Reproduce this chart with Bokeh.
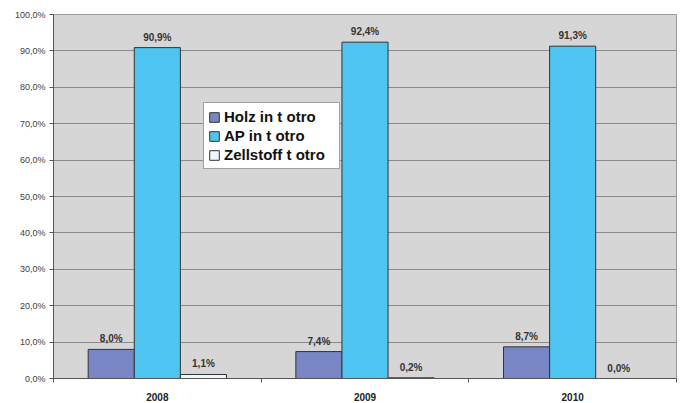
from bokeh.plotting import figure
from bokeh.models import ColumnDataSource, FixedTicker, Legend, LegendItem, Range1d
from bokeh.transform import dodge
from bokeh.core.properties import value
from bokeh.embed import file_html
from bokeh.resources import INLINE

years = ["2008", "2009", "2010"]
holz = [8.0, 7.4, 8.7]
ap = [90.9, 92.4, 91.3]
zellstoff = [1.1, 0.2, 0.0]
series_names = ["Holz in t otro", "AP in t otro", "Zellstoff t otro"]
y_ticks = [0, 10, 20, 30, 40, 50, 60, 70, 80, 90, 100]
y_tick_labels = ["0,0%", "10,0%", "20,0%", "30,0%", "40,0%", "50,0%",
                 "60,0%", "70,0%", "80,0%", "90,0%", "100,0%"]

colors = ["#7986C5", "#4DC5F0", "#EEF6FF"]

xpos = [i + 0.5 for i in range(len(years))]

def fmt(v):
    return ("%.1f" % v).replace(".", ",") + "%"

src = ColumnDataSource(dict(
    x=xpos, holz=holz, ap=ap, zell=zellstoff,
    holz_l=[fmt(v) for v in holz], ap_l=[fmt(v) for v in ap], zell_l=[fmt(v) for v in zellstoff],
))

p = figure(width=681, height=403, output_backend="svg", toolbar_location=None,
           x_range=Range1d(0, len(years)), y_range=Range1d(0, 100))
p.min_border_left = 53
p.min_border_right = 5
p.min_border_top = 14
p.min_border_bottom = 23
p.background_fill_color = "#D6D6D6"
p.border_fill_color = "white"
p.outline_line_color = "#9A9A9A"
p.outline_line_width = 1

w = 0.222
offsets = [-w, 0.0, w]
fields = ["holz", "ap", "zell"]
renderers = []
for off, f, c in zip(offsets, fields, colors):
    r = p.vbar(x=dodge("x", off, range=p.x_range), top=f, width=w, bottom=0,
               source=src, fill_color=c, line_color="#333333", line_width=1)
    renderers.append(r)
    p.text(x=dodge("x", off, range=p.x_range), y=f, text=f + "_l", source=src,
           text_align="center", text_baseline="bottom", y_offset=-5,
           text_font=value("Liberation Sans"), text_font_style="bold",
           text_font_size="10px", text_color="#333333")

# axes
p.xgrid.visible = False
p.ygrid.ticker = FixedTicker(ticks=y_ticks)
p.ygrid.grid_line_color = "#8A8A8A"
p.ygrid.grid_line_width = 1

p.yaxis.ticker = FixedTicker(ticks=y_ticks)
p.yaxis.major_label_overrides = {t: l for t, l in zip(y_ticks, y_tick_labels)}
p.yaxis.major_label_text_font = "Liberation Sans"
p.yaxis.major_label_text_font_size = "9px"
p.yaxis.major_label_text_color = "#404040"
p.yaxis.axis_line_color = "#555555"
p.yaxis.major_tick_line_color = "#555555"
p.yaxis.major_tick_out = 4
p.yaxis.major_tick_in = 0
p.yaxis.minor_tick_line_color = None
p.yaxis.major_label_standoff = 4

p.xaxis.ticker = FixedTicker(ticks=xpos, minor_ticks=list(range(len(years) + 1)))
p.xaxis.major_label_overrides = {x: y for x, y in zip(xpos, years)}
p.xaxis.major_label_text_font = "Liberation Sans"
p.xaxis.major_label_text_font_style = "bold"
p.xaxis.major_label_text_font_size = "10px"
p.xaxis.major_label_text_color = "#222222"
p.xaxis.axis_line_color = "#555555"
p.xaxis.major_tick_line_color = None
p.xaxis.major_tick_out = 0
p.xaxis.major_tick_in = 0
p.xaxis.minor_tick_line_color = "#555555"
p.xaxis.minor_tick_out = 4
p.xaxis.minor_tick_in = 0
p.xaxis.major_label_standoff = 10

legend = Legend(items=[LegendItem(label=n, renderers=[r]) for n, r in zip(series_names, renderers)],
                location=(150, 209))
legend.label_text_font = "Liberation Sans"
legend.label_text_font_style = "bold"
legend.label_text_font_size = "15px"
legend.label_text_color = "#111111"
legend.glyph_width = 12
legend.glyph_height = 12
legend.label_standoff = 4
legend.label_height = 19
legend.label_width = 111
legend.spacing = 0
legend.padding = 4
legend.margin = 0
legend.border_line_color = "#444444"
legend.background_fill_color = "white"
legend.background_fill_alpha = 1
p.add_layout(legend)

open("out.html", "w").write(file_html(p, INLINE))
